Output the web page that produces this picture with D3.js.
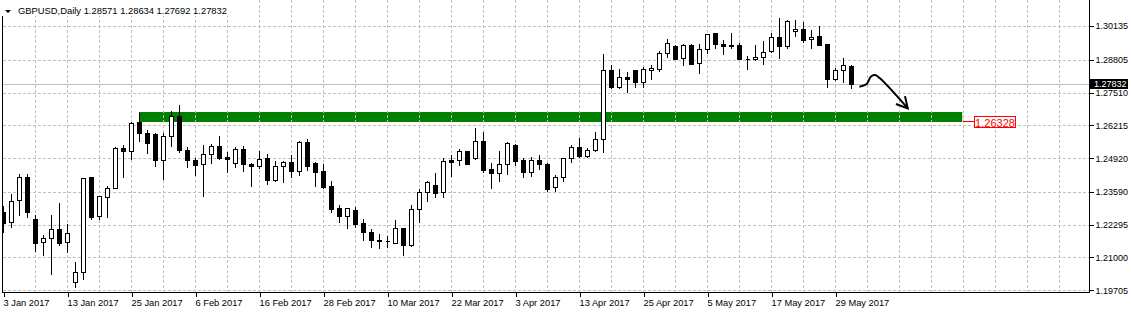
<!DOCTYPE html>
<html>
<head>
<meta charset="utf-8">
<script src="https://cdn.jsdelivr.net/npm/d3@7"></script>
<style>
  body { margin: 0; background: #fff; }
  svg { display: block; font-family: "Liberation Sans", Arial, sans-serif; }
  .axis text { font-size: 9px; fill: #000; }
  .axis.time text { font-size: 9.3px; }
  .axis line { stroke: #000; shape-rendering: crispEdges; }
  .grid line { stroke: #c0c0c0; stroke-dasharray: 3,2; shape-rendering: crispEdges; }
</style>
</head>
<body>
<svg id="chart" width="1131" height="314"></svg>
<script>
// GBPUSD daily bars, 3 Jan 2017 .. 31 May 2017 (one value per bar)
var opens = [1.22783,1.22388,1.23256,1.24164,1.22518,1.21619,1.21776,1.22108,1.21619,1.20028,
  1.20422,1.24164,1.22645,1.23398,1.23749,1.25308,1.25190,1.26334,1.25900,1.25861,
  1.24862,1.25782,1.26583,1.25229,1.24835,1.24677,1.25071,1.25387,1.24968,1.24716,
  1.25269,1.24677,1.24598,1.24917,1.24069,1.24598,1.24756,1.24424,1.25545,1.24727,
  1.24412,1.23809,1.22940,1.22648,1.22861,1.22349,1.21993,1.21677,1.21638,1.21579,
  1.22180,1.21484,1.22901,1.23572,1.23848,1.23572,1.24835,1.24835,1.25202,1.24917,
  1.25584,1.24480,1.24322,1.24677,1.25427,1.24835,1.24385,1.24835,1.24677,1.23768,
  1.24164,1.24917,1.25348,1.25019,1.25253,1.25664,1.28386,1.27739,1.28110,1.28386,
  1.27912,1.28386,1.28449,1.29057,1.29345,1.28860,1.29384,1.28662,1.29215,1.29846,
  1.29412,1.29384,1.29384,1.28840,1.28820,1.28923,1.29159,1.29688,1.29357,1.29925,
  1.30004,1.29609,1.29739,1.29436,1.28031,1.28386,1.28571];
var highs = [1.23071,1.23532,1.24322,1.24322,1.22704,1.21934,1.22704,1.23177,1.22349,1.20856,
  1.24187,1.24180,1.23485,1.23880,1.25387,1.25490,1.26374,1.26729,1.26054,1.25959,
  1.25959,1.26819,1.27056,1.25387,1.24980,1.25478,1.25505,1.25833,1.25213,1.25387,
  1.25430,1.24779,1.25241,1.25110,1.24846,1.24846,1.25082,1.25636,1.25715,1.24806,
  1.24716,1.24045,1.23100,1.23004,1.23032,1.22545,1.22168,1.21974,1.21900,1.22518,
  1.22214,1.23100,1.23753,1.24057,1.24362,1.24953,1.25082,1.25308,1.25241,1.26159,
  1.25991,1.24767,1.25241,1.25596,1.25516,1.24953,1.25004,1.25082,1.24779,1.24294,
  1.24953,1.25466,1.25766,1.25359,1.25991,1.29080,1.28635,1.28465,1.28358,1.28400,
  1.28556,1.28635,1.29187,1.29661,1.29412,1.29451,1.29451,1.29451,1.29846,1.29885,
  1.29609,1.29885,1.29491,1.28978,1.29424,1.29582,1.29897,1.30501,1.30410,1.30410,
  1.30343,1.30004,1.30174,1.29463,1.28528,1.28923,1.28634];
var lows = [1.21993,1.22214,1.22676,1.22609,1.21248,1.21090,1.20356,1.21504,1.21208,1.19854,
  1.20170,1.22530,1.22530,1.22609,1.23740,1.24187,1.24902,1.25584,1.25135,1.24625,
  1.24109,1.25399,1.25174,1.24587,1.24266,1.23438,1.24740,1.24902,1.24385,1.24587,
  1.24424,1.23832,1.24543,1.23891,1.24030,1.23990,1.24187,1.24266,1.24451,1.23832,
  1.23753,1.22806,1.22412,1.22168,1.22214,1.21689,1.21405,1.21366,1.21405,1.21552,
  1.21090,1.21460,1.22412,1.23240,1.23375,1.23398,1.24213,1.24641,1.24677,1.24900,
  1.24385,1.23753,1.24030,1.24306,1.24652,1.24187,1.24227,1.24491,1.23635,1.23635,
  1.24030,1.24779,1.24980,1.24953,1.25202,1.25150,1.27699,1.27699,1.27541,1.27715,
  1.27739,1.28031,1.28358,1.28899,1.28820,1.28595,1.28635,1.28291,1.29080,1.29278,
  1.29017,1.29254,1.28832,1.28449,1.28800,1.28635,1.29096,1.28883,1.29278,1.29751,
  1.29491,1.29254,1.29384,1.27739,1.28003,1.27936,1.27692];
var closes = [1.22349,1.23217,1.24164,1.22806,1.21563,1.21776,1.22108,1.21583,1.21974,1.20422,
  1.24124,1.22609,1.23414,1.23749,1.25308,1.25190,1.26295,1.25900,1.25505,1.24862,
  1.25782,1.26583,1.25241,1.24835,1.24661,1.25071,1.25387,1.24941,1.24877,1.25269,
  1.24677,1.24598,1.24877,1.24069,1.24598,1.24756,1.24424,1.25545,1.24625,1.24385,
  1.23793,1.22925,1.22648,1.22940,1.22333,1.21993,1.21677,1.21642,1.21650,1.22180,
  1.21484,1.22901,1.23572,1.23966,1.23544,1.24795,1.24779,1.25190,1.24700,1.25584,
  1.24464,1.24322,1.24677,1.25505,1.24819,1.24385,1.24835,1.24677,1.23702,1.24164,
  1.24917,1.25348,1.25019,1.25229,1.25664,1.28386,1.27739,1.28110,1.28054,1.27912,
  1.28425,1.28465,1.29057,1.29451,1.28832,1.29384,1.28646,1.29215,1.29807,1.29412,
  1.29333,1.29333,1.28844,1.28850,1.28923,1.29120,1.29688,1.29357,1.30343,1.30004,
  1.29582,1.29712,1.29396,1.28054,1.28386,1.28583,1.27832];

// date labels, one every 8 bars
var tickLabels = ["3 Jan 2017","13 Jan 2017","25 Jan 2017","6 Feb 2017","16 Feb 2017","28 Feb 2017",
  "10 Mar 2017","22 Mar 2017","3 Apr 2017","13 Apr 2017","25 Apr 2017","5 May 2017","17 May 2017","29 May 2017"];
var priceTicks = [1.30135,1.28805,1.27510,1.26215,1.24920,1.23590,1.22295,1.21000,1.19705];
var lastPrice = 1.27832;
var zoneLevels = [1.26328, 1.26740];   // bottom, top of the green zone
var zoneBars = [17, 119.9];
// hand drawn arrow: [bar, price]
var arrowPts = [[106.98,1.27739],[107.9,1.27845],[108.4,1.28133],[108.94,1.28201],[109.56,1.28070],[113.03,1.26886]];

var svg = d3.select("#chart");
var W = 1131, H = 314;
var left = 2.5, right = 1089, bottom = 292;

var x = d3.scaleLinear().domain([0, 100]).range([3.5, 803.5]);
var y = d3.scaleLinear().domain([1.19705, 1.30135]).range([290.3, 26]);
var px = function(i) { return Math.floor(x(i)) + 0.5; };
var py = function(p) { return Math.round(y(p)) + 0.5; };

svg.append("rect").attr("width", W).attr("height", H).attr("fill", "#fff");

svg.append("defs").append("clipPath").attr("id", "plot")
  .append("rect").attr("x", 3).attr("y", 0).attr("width", right - 3).attr("height", bottom);

var plot = svg.append("g").attr("clip-path", "url(#plot)");

// green zone
plot.append("rect")
  .attr("x", x(zoneBars[0]) - 0.5)
  .attr("y", Math.round(y(zoneLevels[1])))
  .attr("width", x(zoneBars[1]) - x(zoneBars[0]))
  .attr("height", Math.round(y(zoneLevels[0])) - Math.round(y(zoneLevels[1])))
  .attr("fill", "#008000");

// grid
var grid = plot.append("g").attr("class", "grid");
grid.selectAll(".gv").data(d3.range(4, 136, 4)).enter().append("line")
  .attr("x1", px).attr("x2", px).attr("y1", 0).attr("y2", bottom);
grid.selectAll(".gh").data(priceTicks).enter().append("line")
  .attr("x1", 3).attr("x2", right)
  .attr("y1", py).attr("y2", py);

// last price line
plot.append("line")
  .attr("x1", 3).attr("x2", right)
  .attr("y1", py(lastPrice)).attr("y2", py(lastPrice))
  .attr("stroke", "#c0c0c0").attr("shape-rendering", "crispEdges");

// candles
var bars = opens.map(function(o, i) {
  return { i: i, o: o, h: highs[i], l: lows[i], c: closes[i] };
});
var candle = plot.append("g").selectAll("g").data(bars).enter().append("g");
candle.append("line")
  .attr("x1", function(d) { return px(d.i); })
  .attr("x2", function(d) { return px(d.i); })
  .attr("y1", function(d) { return py(d.h); })
  .attr("y2", function(d) { return py(d.l); })
  .attr("stroke", "#000").attr("shape-rendering", "crispEdges");
candle.append("path")
  .attr("d", function(d) {
    var cx = px(d.i), t = py(Math.max(d.o, d.c)), b = py(Math.min(d.o, d.c));
    return "M" + (cx - 2) + "," + t + "H" + (cx + 2) + "V" + b + "H" + (cx - 2) + "Z";
  })
  .attr("fill", function(d) { return d.c >= d.o ? "#fff" : "#000"; })
  .attr("stroke", "#000").attr("shape-rendering", "crispEdges");

// arrow
var defs = svg.select("defs");
defs.append("marker")
  .attr("id", "head")
  .attr("markerUnits", "userSpaceOnUse")
  .attr("markerWidth", 16).attr("markerHeight", 16)
  .attr("viewBox", "-14 -8 16 16")
  .attr("refX", 0).attr("refY", 0)
  .attr("orient", "auto")
  .append("path")
  .attr("d", "M-11,-6 L0,0 L-11,6")
  .attr("fill", "none").attr("stroke", "#000").attr("stroke-width", 2);

var arrowLine = d3.line()
  .x(function(d) { return x(d[0]); })
  .y(function(d) { return y(d[1]); })
  .curve(d3.curveCatmullRom.alpha(0.5));
plot.append("path")
  .attr("d", arrowLine(arrowPts))
  .attr("fill", "none").attr("stroke", "#000").attr("stroke-width", 2)
  .attr("marker-end", "url(#head)");

// zone price tag
var zy = y(zoneLevels[0]);
svg.append("line")
  .attr("x1", x(zoneBars[1])).attr("x2", 974)
  .attr("y1", Math.round(zy) - 0.5).attr("y2", Math.round(zy) - 0.5)
  .attr("stroke", "#ff0000").attr("shape-rendering", "crispEdges");
svg.append("rect")
  .attr("x", 974.5).attr("y", Math.round(zy) - 5.5)
  .attr("width", 41).attr("height", 11)
  .attr("fill", "#fff").attr("stroke", "#ff0000").attr("shape-rendering", "crispEdges");
svg.append("text")
  .attr("x", 995).attr("y", Math.round(zy) + 4.5)
  .attr("text-anchor", "middle")
  .attr("font-size", "11px").attr("fill", "#ff0000")
  .text(d3.format(".5f")(zoneLevels[0]));

// frame
svg.append("line").attr("x1", left).attr("x2", left).attr("y1", 15).attr("y2", bottom + 0.5)
  .attr("stroke", "#000").attr("shape-rendering", "crispEdges");
svg.append("line").attr("x1", right + 0.5).attr("x2", right + 0.5).attr("y1", 0).attr("y2", bottom + 0.5)
  .attr("stroke", "#000").attr("shape-rendering", "crispEdges");
svg.append("line").attr("x1", left).attr("x2", right + 0.5).attr("y1", bottom + 0.5).attr("y2", bottom + 0.5)
  .attr("stroke", "#000").attr("shape-rendering", "crispEdges");

// price axis
var yAxis = svg.append("g").attr("class", "axis")
  .attr("transform", "translate(" + (right + 0.5) + ",0)")
  .call(d3.axisRight(y).tickValues(priceTicks).tickFormat(d3.format(".5f")).tickSize(4).tickPadding(2));
yAxis.select(".domain").remove();

// time axis
var xAxis = svg.append("g").attr("class", "axis time")
  .attr("transform", "translate(0," + (bottom + 0.5) + ")")
  .call(d3.axisBottom(x).tickValues(d3.range(0, tickLabels.length * 8, 8))
    .tickFormat(function(d, i) { return tickLabels[i]; }).tickSize(4).tickPadding(3));
xAxis.select(".domain").remove();
xAxis.selectAll("text").attr("text-anchor", "start").attr("x", -0.5);

// last price tag
svg.append("rect")
  .attr("x", right + 1).attr("y", Math.round(y(lastPrice)) - 5)
  .attr("width", 38).attr("height", 10).attr("fill", "#000");
svg.append("text")
  .attr("x", right + 5).attr("y", y(lastPrice)).attr("dy", "0.34em")
  .attr("font-size", "9px").attr("fill", "#fff")
  .text(d3.format(".5f")(lastPrice));

// header
var n = opens.length - 1;
svg.append("rect").attr("x", 0).attr("y", 0).attr("width", 240).attr("height", 16).attr("fill", "#fff");
svg.append("path").attr("d", "M5,10 L11,10 L8,13 Z").attr("fill", "#000");
svg.append("text")
  .attr("x", 18).attr("y", 14)
  .attr("font-size", "9.4px").attr("fill", "#000")
  .text("GBPUSD,Daily  " + [opens[n], highs[n], lows[n], closes[n]].map(d3.format(".5f")).join(" "));
</script>
</body>
</html>
